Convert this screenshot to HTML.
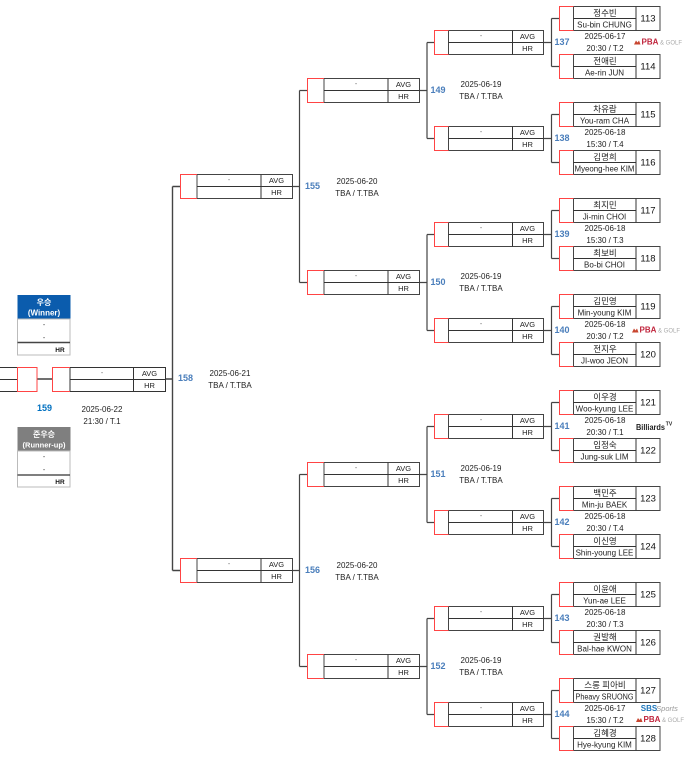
<!DOCTYPE html>
<html><head><meta charset="utf-8"><style>
html,body{margin:0;padding:0;background:#fff;width:699px;height:765px;overflow:hidden}
svg{display:block;position:absolute;left:0;top:0;filter:blur(.35px)}
text{font-family:"Liberation Sans","Noto Sans CJK KR",sans-serif;fill:#222;text-anchor:middle}
.n{font-size:8px}.k{font-size:8.5px}.d{font-size:8px}.s{font-size:7.5px}.c{font-size:4px;fill:#666}
.id{font-size:9.5px;fill:#111}.m{font-size:9px;font-weight:bold;fill:#4a7ebb}
</style></head><body>
<svg width="699" height="765" viewBox="0 0 699 765" xmlns="http://www.w3.org/2000/svg">
<defs>
<g id="a" fill="none" stroke="#333">
<rect x="573.5" y="0.5" width="86.5" height="24" fill="none" stroke="#444"/>
<path d="M573.5 12.5H636M636 .5V24.5"/>
<path d="M573.5 .5H559.5V24.5H573.5" stroke="#f44"/>
</g>
<g id="b" fill="none" stroke="#333">
<rect x="14.5" y=".5" width="95" height="24" stroke="#444"/>
<path d="M14.5 12.5H109.5M78.5 .5V24.5"/>
<path d="M14.5 .5H.5V24.5H14.5" stroke="#f44"/>
</g>
<g id="w" fill="none" stroke="#333">
<rect x="17" y=".5" width="95.500" height="24" stroke="#444"/>
<path d="M17 12.5H112.500M81 .5V24.5"/>
<path d="M17 .5H.5V24.5H17" stroke="#f44"/>
</g>
</defs>

<!-- connectors -->
<g fill="none" stroke="#444" stroke-width="1.2">
<path d="M543.5 42.5H551.5M551.5 18.5V66.5M551.5 18.5H559M551.5 66.5H559"/>
<path d="M543.5 138.5H551.5M551.5 114.5V162.5M551.5 114.5H559M551.5 162.5H559"/>
<path d="M543.5 234.5H551.5M551.5 210.5V258.5M551.5 210.5H559M551.5 258.5H559"/>
<path d="M543.5 330.5H551.5M551.5 306.5V354.5M551.5 306.5H559M551.5 354.5H559"/>
<path d="M543.5 426.5H551.5M551.5 402.5V450.5M551.5 402.5H559M551.5 450.5H559"/>
<path d="M543.5 522.5H551.5M551.5 498.5V546.5M551.5 498.5H559M551.5 546.5H559"/>
<path d="M543.5 618.5H551.5M551.5 594.5V642.5M551.5 594.5H559M551.5 642.5H559"/>
<path d="M543.5 714.5H551.5M551.5 690.5V738.5M551.5 690.5H559M551.5 738.5H559"/>
<path d="M419.5 90.5H427M427 42.5V138.5M427 42.5H434M427 138.5H434"/>
<path d="M419.5 282.5H427M427 234.5V330.5M427 234.5H434M427 330.5H434"/>
<path d="M419.5 474.5H427M427 426.5V522.5M427 426.5H434M427 522.5H434"/>
<path d="M419.5 666.5H427M427 618.5V714.5M427 618.5H434M427 714.5H434"/>
<path d="M292.5 186.5H299.5M299.5 90.5V282.5M299.5 90.5H307M299.5 282.5H307"/>
<path d="M292.5 570.5H299.5M299.5 474.5V666.5M299.5 474.5H307M299.5 666.5H307"/>
<path d="M165.5 379H172.5M172.5 186.5V570.5M172.5 186.5H180M172.5 570.5H180" stroke-width="1.4"/>
<path d="M37 379H52" stroke-width="1.4" stroke="#333"/>
</g>

<!-- R1 boxes -->
<use href="#a" y="6"/><use href="#a" y="54"/><use href="#a" y="102"/><use href="#a" y="150"/>
<use href="#a" y="198"/><use href="#a" y="246"/><use href="#a" y="294"/><use href="#a" y="342"/>
<use href="#a" y="390"/><use href="#a" y="438"/><use href="#a" y="486"/><use href="#a" y="534"/>
<use href="#a" y="582"/><use href="#a" y="630"/><use href="#a" y="678"/><use href="#a" y="726"/>

<!-- R2 boxes -->
<use href="#b" x="434" y="30"/><use href="#b" x="434" y="126"/><use href="#b" x="434" y="222"/><use href="#b" x="434" y="318"/>
<use href="#b" x="434" y="414"/><use href="#b" x="434" y="510"/><use href="#b" x="434" y="606"/><use href="#b" x="434" y="702"/>
<!-- R3 -->
<use href="#w" x="307" y="78"/><use href="#w" x="307" y="270"/><use href="#w" x="307" y="462"/><use href="#w" x="307" y="654"/>
<!-- R4 -->
<use href="#w" x="180" y="174"/><use href="#w" x="180" y="558"/>

<!-- Final -->
<g fill="none">
<rect x="52.5" y="367.5" width="113" height="24" stroke="#333"/>
<path d="M70 379.5H165.5M70 367.5V391.5M133.5 367.5V391.5" stroke="#333"/>
<path d="M70 367.5H52.5V391.5H70" stroke="#f44"/>
<path d="M0 367.5H17.5M0 379.5H17.5M0 391.5H17.5M17.5 367.5V391.5" stroke="#333"/>
<rect x="17.5" y="367.5" width="19.5" height="24" stroke="#f44"/>
</g>

<!-- Winner / runner-up -->
<rect x="17.5" y="295" width="53" height="24" fill="#0b5cad"/>
<rect x="17.5" y="319" width="52.5" height="36" fill="#fff" stroke="#bbb"/>
<path d="M17.5 342.5H70" stroke="#444" stroke-width="1.4"/>
<rect x="17.5" y="427" width="53" height="24" fill="#7f7f7f"/>
<rect x="17.5" y="451" width="52.5" height="36" fill="#fff" stroke="#bbb"/>
<path d="M17.5 475H70" stroke="#333" stroke-width="1.2"/>
<text x="44" y="305" class="n" style="fill:#fff;font-weight:bold">우승</text>
<text x="44" y="315.500" class="n" style="fill:#fff;font-weight:bold">(Winner)</text>
<text x="44" y="327" class="c" style="font-size:7px;fill:#333">-</text>
<text x="44" y="340" class="c" style="font-size:7px;fill:#333">-</text>
<text x="60" y="352" class="s" style="font-size:6.5px;font-weight:bold;fill:#111">HR</text>
<text x="44" y="437" class="n" style="fill:#fff;font-weight:bold">준우승</text>
<text x="44" y="447.500" style="font-size:7.5px;fill:#fff;font-weight:bold">(Runner-up)</text>
<text x="44" y="459" class="c" style="font-size:7px;fill:#333">-</text>
<text x="44" y="472" class="c" style="font-size:7px;fill:#333">-</text>
<text x="60" y="484" class="s" style="font-size:6.5px;font-weight:bold;fill:#111">HR</text>

<!-- Players -->
<text class="k" x="605" y="16">정수빈</text><text class="k" x="605" y="64">전애린</text>
<text class="k" x="605" y="112">차유람</text><text class="k" x="605" y="160">김명희</text>
<text class="k" x="605" y="208">최지민</text><text class="k" x="605" y="256">최보비</text>
<text class="k" x="605" y="304">김민영</text><text class="k" x="605" y="352">전지우</text>
<text class="k" x="605" y="400">이우경</text><text class="k" x="605" y="448">임정숙</text>
<text class="k" x="605" y="496">백민주</text><text class="k" x="605" y="544">이신영</text>
<text class="k" x="605" y="592">이윤애</text><text class="k" x="605" y="640">권발해</text>
<text class="k" x="605" y="688">스롱 피아비</text><text class="k" x="605" y="736">김혜경</text>

<text class="n" x="604.500" y="27.500">Su-bin CHUNG</text><text class="n" x="604.500" y="75.500">Ae-rin JUN</text>
<text class="n" x="604.500" y="123.500">You-ram CHA</text><text class="n" x="604.500" y="171.500" textLength="60" lengthAdjust="spacingAndGlyphs">Myeong-hee KIM</text>
<text class="n" x="604.500" y="219.500">Ji-min CHOI</text><text class="n" x="604.500" y="267.500">Bo-bi CHOI</text>
<text class="n" x="604.500" y="315.500">Min-young KIM</text><text class="n" x="604.500" y="363.500">JI-woo JEON</text>
<text class="n" x="604.500" y="411.500">Woo-kyung LEE</text><text class="n" x="604.500" y="459.500">Jung-suk LIM</text>
<text class="n" x="604.500" y="507.500">Min-ju BAEK</text><text class="n" x="604.500" y="555.500">Shin-young LEE</text>
<text class="n" x="604.500" y="603.500">Yun-ae LEE</text><text class="n" x="604.500" y="651.500">Bal-hae KWON</text>
<text class="n" x="604.500" y="699.500" textLength="58" lengthAdjust="spacingAndGlyphs">Pheavy SRUONG</text><text class="n" x="604.500" y="747.500">Hye-kyung KIM</text>

<text class="id" x="648" y="21.500">113</text><text class="id" x="648" y="69.500">114</text>
<text class="id" x="648" y="117.500">115</text><text class="id" x="648" y="165.500">116</text>
<text class="id" x="648" y="213.500">117</text><text class="id" x="648" y="261.500">118</text>
<text class="id" x="648" y="309.500">119</text><text class="id" x="648" y="357.500">120</text>
<text class="id" x="648" y="405.500">121</text><text class="id" x="648" y="453.500">122</text>
<text class="id" x="648" y="501.500">123</text><text class="id" x="648" y="549.500">124</text>
<text class="id" x="648" y="597.500">125</text><text class="id" x="648" y="645.500">126</text>
<text class="id" x="648" y="693.500">127</text><text class="id" x="648" y="741.500">128</text>

<!-- R1 dates -->
<text class="d" x="605" y="39">2025-06-17</text><text class="d" x="605" y="51">20:30 / T.2</text>
<text class="d" x="605" y="135">2025-06-18</text><text class="d" x="605" y="147">15:30 / T.4</text>
<text class="d" x="605" y="231">2025-06-18</text><text class="d" x="605" y="243">15:30 / T.3</text>
<text class="d" x="605" y="327">2025-06-18</text><text class="d" x="605" y="339">20:30 / T.2</text>
<text class="d" x="605" y="423">2025-06-18</text><text class="d" x="605" y="435">20:30 / T.1</text>
<text class="d" x="605" y="519">2025-06-18</text><text class="d" x="605" y="531">20:30 / T.4</text>
<text class="d" x="605" y="615">2025-06-18</text><text class="d" x="605" y="627">20:30 / T.3</text>
<text class="d" x="605" y="711">2025-06-17</text><text class="d" x="605" y="723">15:30 / T.2</text>

<!-- match numbers -->
<text class="m" x="562" y="45">137</text><text class="m" x="562" y="141">138</text>
<text class="m" x="562" y="237">139</text><text class="m" x="562" y="333">140</text>
<text class="m" x="562" y="429">141</text><text class="m" x="562" y="525">142</text>
<text class="m" x="562" y="621">143</text><text class="m" x="562" y="717">144</text>
<text class="m" x="438" y="93">149</text><text class="m" x="438" y="285">150</text>
<text class="m" x="438" y="477">151</text><text class="m" x="438" y="669">152</text>
<text class="m" x="312.500" y="189">155</text><text class="m" x="312.500" y="573">156</text>
<text class="m" x="185.500" y="381">158</text>
<text class="m" x="44.500" y="411" style="fill:#0070c0">159</text>

<!-- R2/R3 dates -->
<text class="d" x="481" y="87">2025-06-19</text><text class="d" x="481" y="99">TBA / T.TBA</text>
<text class="d" x="481" y="279">2025-06-19</text><text class="d" x="481" y="291">TBA / T.TBA</text>
<text class="d" x="481" y="471">2025-06-19</text><text class="d" x="481" y="483">TBA / T.TBA</text>
<text class="d" x="481" y="663">2025-06-19</text><text class="d" x="481" y="675">TBA / T.TBA</text>
<text class="d" x="357" y="184">2025-06-20</text><text class="d" x="357" y="196">TBA / T.TBA</text>
<text class="d" x="357" y="568">2025-06-20</text><text class="d" x="357" y="580">TBA / T.TBA</text>
<text class="d" x="230" y="376">2025-06-21</text><text class="d" x="230" y="388">TBA / T.TBA</text>
<text class="d" x="102" y="412">2025-06-22</text><text class="d" x="102" y="424">21:30 / T.1</text>

<!-- dashes / AVG / HR -->
<text class="c" style="font-size:7px" x="481" y="38">-</text><text class="s" x="527.500" y="39">AVG</text><text class="s" x="527.500" y="51">HR</text>
<text class="c" style="font-size:7px" x="481" y="134">-</text><text class="s" x="527.500" y="135">AVG</text><text class="s" x="527.500" y="147">HR</text>
<text class="c" style="font-size:7px" x="481" y="230">-</text><text class="s" x="527.500" y="231">AVG</text><text class="s" x="527.500" y="243">HR</text>
<text class="c" style="font-size:7px" x="481" y="326">-</text><text class="s" x="527.500" y="327">AVG</text><text class="s" x="527.500" y="339">HR</text>
<text class="c" style="font-size:7px" x="481" y="422">-</text><text class="s" x="527.500" y="423">AVG</text><text class="s" x="527.500" y="435">HR</text>
<text class="c" style="font-size:7px" x="481" y="518">-</text><text class="s" x="527.500" y="519">AVG</text><text class="s" x="527.500" y="531">HR</text>
<text class="c" style="font-size:7px" x="481" y="614">-</text><text class="s" x="527.500" y="615">AVG</text><text class="s" x="527.500" y="627">HR</text>
<text class="c" style="font-size:7px" x="481" y="710">-</text><text class="s" x="527.500" y="711">AVG</text><text class="s" x="527.500" y="723">HR</text>
<text class="c" style="font-size:7px" x="356" y="86">-</text><text class="s" x="403.500" y="87">AVG</text><text class="s" x="403.500" y="99">HR</text>
<text class="c" style="font-size:7px" x="356" y="278">-</text><text class="s" x="403.500" y="279">AVG</text><text class="s" x="403.500" y="291">HR</text>
<text class="c" style="font-size:7px" x="356" y="470">-</text><text class="s" x="403.500" y="471">AVG</text><text class="s" x="403.500" y="483">HR</text>
<text class="c" style="font-size:7px" x="356" y="662">-</text><text class="s" x="403.500" y="663">AVG</text><text class="s" x="403.500" y="675">HR</text>
<text class="c" style="font-size:7px" x="229" y="182">-</text><text class="s" x="276.500" y="183">AVG</text><text class="s" x="276.500" y="195">HR</text>
<text class="c" style="font-size:7px" x="229" y="566">-</text><text class="s" x="276.500" y="567">AVG</text><text class="s" x="276.500" y="579">HR</text>
<text class="c" style="font-size:7px" x="102" y="375">-</text><text class="s" x="149.500" y="376">AVG</text><text class="s" x="149.500" y="388">HR</text>

<!-- logos -->
<path d="M634 44.500l2-4 1.500 2 1.500-2 1.500 4z" fill="#c8452f"/>
<text x="650" y="44.500" style="font-size:8px;font-weight:bold;fill:#c0243c">PBA</text>
<text x="671" y="44.500" style="font-size:6px;fill:#aaa">&amp; GOLF</text>
<path d="M632 332.500l2-4 1.500 2 1.500-2 1.500 4z" fill="#c8452f"/>
<text x="648" y="332.500" style="font-size:8px;font-weight:bold;fill:#c0243c">PBA</text>
<text x="669" y="332.500" style="font-size:6px;fill:#aaa">&amp; GOLF</text>
<path d="M636 722l2-4 1.500 2 1.500-2 1.500 4z" fill="#c8452f"/>
<text x="652" y="722" style="font-size:8px;font-weight:bold;fill:#c0243c">PBA</text>
<text x="673" y="722" style="font-size:6px;fill:#aaa">&amp; GOLF</text>
<text x="649" y="711" style="font-size:8px;font-weight:bold;fill:#1b75bb">SBS</text>
<text x="667" y="711" style="font-size:7.500px;font-style:italic;fill:#999">Sports</text>
<text x="650.500" y="430" textLength="29" lengthAdjust="spacingAndGlyphs" style="font-size:8px;font-weight:bold;fill:#222">Billiards</text>
<text x="669" y="425.500" style="font-size:5px;font-weight:bold;fill:#222">TV</text>
</svg>
</body></html>
